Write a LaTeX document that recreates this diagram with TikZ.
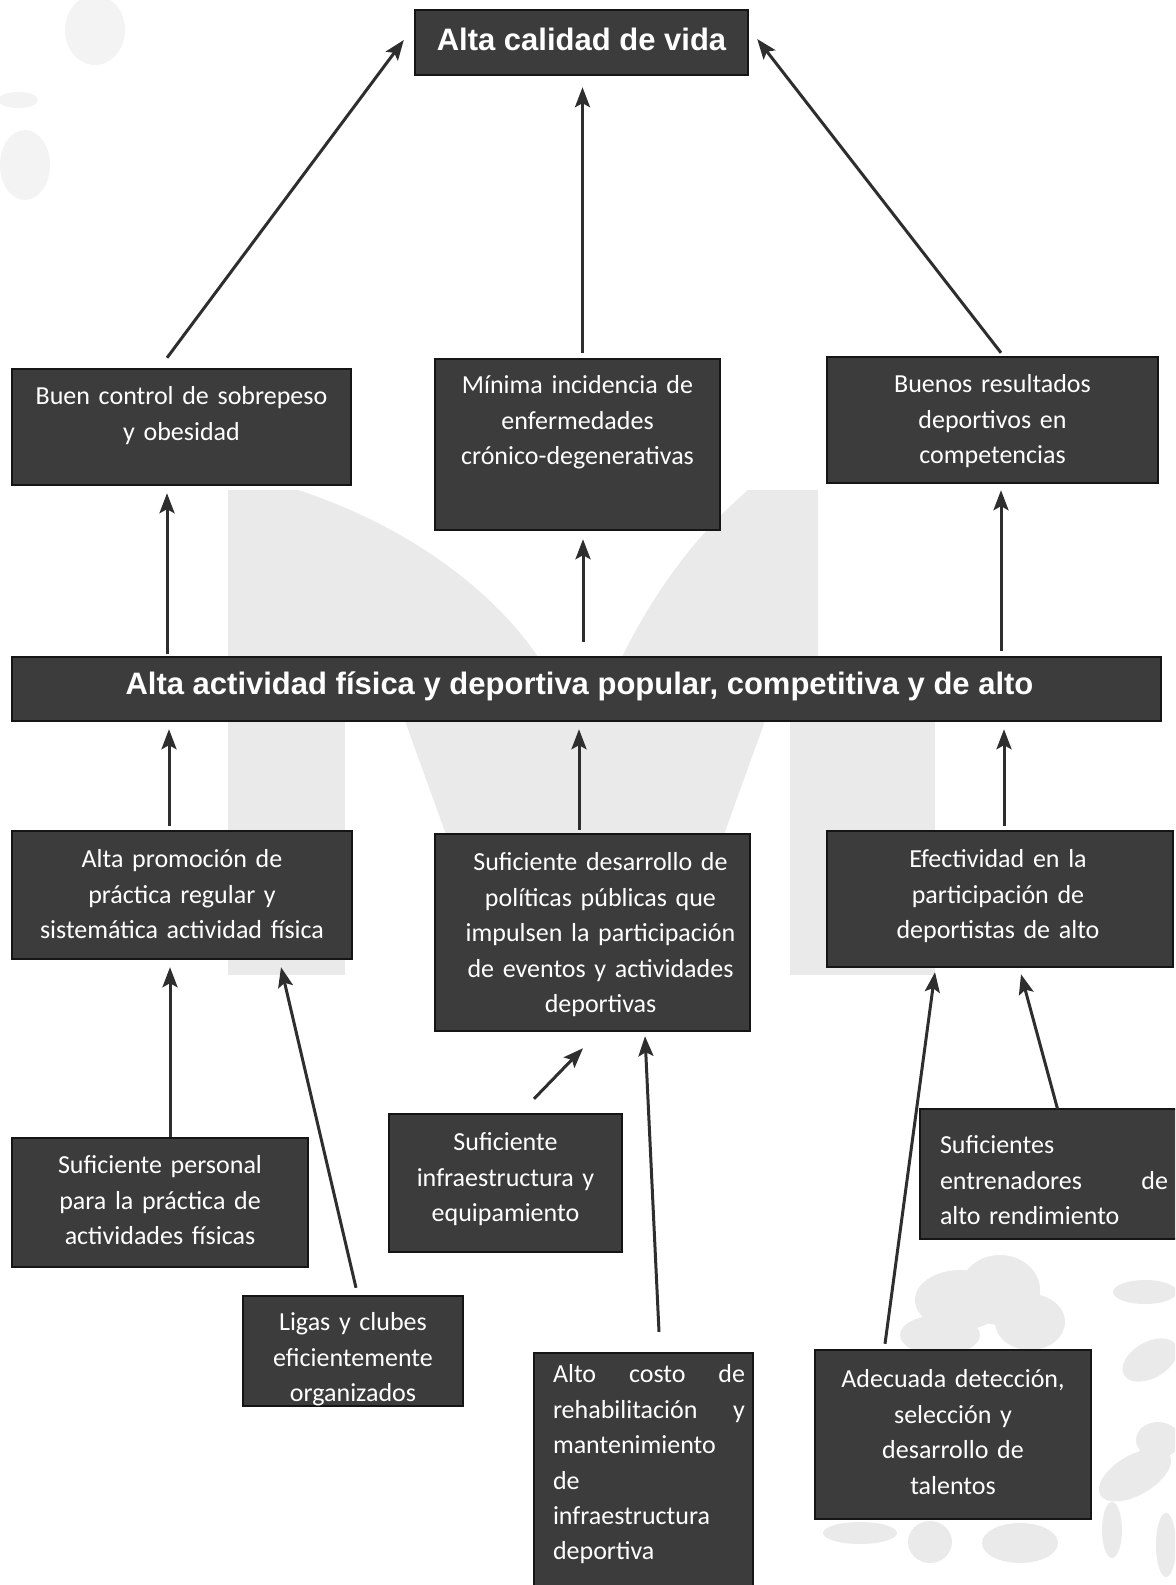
\documentclass[tikz,border=0pt]{standalone}
\usepackage{fontspec}
\setmainfont{Carlito}
\newfontfamily\arialfont{Liberation Sans}
\usetikzlibrary{arrows.meta,calc,fit}
\definecolor{boxfill}{HTML}{3C3C3C}
\definecolor{boxline}{HTML}{151515}
\definecolor{arrowc}{HTML}{2E2E2E}
\definecolor{wm}{HTML}{EAEAEA}
\definecolor{wmlight}{HTML}{F3F3F3}
\begin{document}
\begin{tikzpicture}[x=0.5pt,y=-0.5pt,
  box/.style={draw=boxline, line width=1.2pt, fill=boxfill, inner sep=0pt},
  txt/.style={text=white, font=\fontsize{13}{17.7}\selectfont, align=center, inner sep=0pt, anchor=base},
  jtxt/.style={text=white, font=\fontsize{13}{17.7}\selectfont, align=left, inner sep=0pt, anchor=base},
  ttl/.style={text=white, font=\arialfont\bfseries\fontsize{15.5}{18}\selectfont, inner sep=0pt, anchor=base},
  arr/.style={draw=arrowc, line width=1.5pt, -{Stealth[length=10pt,width=7.5pt,inset=2pt]}},
  wmshape/.style={fill=wm, draw=none},
  wmsoft/.style={fill=wmlight, draw=none}]
\useasboundingbox (0,0) rectangle (1175,1585);
\clip (0,0) rectangle (1175,1585);
% watermark
\path[wmshape] (228,490) -- (298,490) .. controls (420,530) and (500,600) .. (538,657) -- (228,657) -- cycle;
\path[wmshape] (818,490) -- (748,490) .. controls (690,540) and (650,600) .. (622,657) -- (818,657) -- cycle;
\path[wmshape] (228,721) rectangle (345,975);
\path[wmshape] (405,721) -- (765,721) -- (722,840) -- (448,840) -- cycle;
\path[wmshape] (790,721) rectangle (935,975);
% floral decoration
\path[wmshape] (960,1300) ellipse [x radius=45, y radius=30];
\path[wmshape] (1000,1290) ellipse [x radius=40, y radius=35];
\path[wmshape] (1030,1322) ellipse [x radius=35, y radius=28];
\path[wmshape] (940,1335) ellipse [x radius=40, y radius=20];
\path[wmshape] (1145,1292) ellipse [x radius=32, y radius=12];
\path[wmshape, rotate around={30:(1150,1360)}] (1150,1360) ellipse [x radius=30, y radius=18];
\path[wmshape] (1158,1440) ellipse [x radius=22, y radius=18];
\path[wmshape, rotate around={30:(1135,1475)}] (1135,1475) ellipse [x radius=40, y radius=20];
\path[wmshape] (1112,1530) ellipse [x radius=10, y radius=28];
\path[wmshape] (1020,1543) ellipse [x radius=38, y radius=20];
\path[wmshape] (860,1533) ellipse [x radius=37, y radius=11];
\path[wmshape] (930,1542) ellipse [x radius=22, y radius=21];
\path[wmshape] (1166,1545) ellipse [x radius=10, y radius=32];
\path[wmsoft] (95,30) ellipse [x radius=30, y radius=35];
\path[wmsoft] (18,100) ellipse [x radius=20, y radius=8];
\path[wmsoft] (25,165) ellipse [x radius=25, y radius=35];

% boxes
\node[box, fit={(415,10)(748,75)}] (top) {};
\node[ttl] (topt) at ($(top.center)+(0,7.5)$) {Alta calidad de vida};

\node[box, fit={(12,369)(351,485)}] (bc) {};
\node[txt, text width=160pt] (bct) at ($(bc.north)+(0,37)$) {Buen control de sobrepeso\\y obesidad};

\node[box, fit={(435,359)(720,530)}] (mi) {};
\node[txt, text width=136pt] (mit) at ($(mi.north)+(0,36)$) {Mínima incidencia de\\enfermedades\\crónico-degenerativas};

\node[box, fit={(827,357)(1158,483)}] (br) {};
\node[txt, text width=155pt] (brt) at ($(br.north)+(0,37)$) {Buenos resultados\\deportivos en\\competencias};

\node[box, fit={(12,657)(1161,721)}] (bar) {};
\node[ttl] (bart) at ($(bar.center)+(-7,5)$) {Alta actividad física y deportiva popular, competitiva y de alto};

\node[box, fit={(12,831)(352,959)}] (ap) {};
\node[txt, text width=162pt] (apt) at ($(ap.north)+(0,38)$) {Alta promoción de\\práctica regular y\\sistemática actividad física};

\node[box, fit={(435,834)(750,1031)}] (sd) {};
\node[txt, text width=150pt] (sdt) at ($(sd.north)+(8,38)$) {Suficiente desarrollo de\\políticas públicas que\\impulsen la participación\\de eventos y actividades\\deportivas};

\node[box, fit={(827,831)(1173,967)}] (ef) {};
\node[txt, text width=160pt] (eft) at ($(ef.north)+(-2,38)$) {Efectividad en la\\participación de\\deportistas de alto};

\node[box, fit={(12,1138)(308,1267)}] (sp) {};
\node[txt, text width=140pt] (spt) at ($(sp.north)+(0,37)$) {Suficiente personal\\para la práctica de\\actividades físicas};

\node[box, fit={(243,1296)(463,1406)}] (lc) {};
\node[txt, text width=104pt] (lct) at ($(lc.north)+(0,36)$) {Ligas y clubes\\eficientemente\\organizados};

\node[box, fit={(389,1114)(622,1252)}] (si) {};
\node[txt, text width=110pt] (sit) at ($(si.north)+(0,38)$) {Suficiente\\infraestructura y\\equipamiento};

\node[box, fit={(534,1353)(753,1600)}] (ac) {};
\node[jtxt, text width=96pt] (act) at ($(ac.north)+(5.5,31)$) {\makebox[96pt][l]{Alto\hfill costo\hfill de}\\\makebox[96pt][l]{rehabilitación\hfill y}\\mantenimiento\\de\\infraestructura\\deportiva};

\node[box, fit={(920,1109)(1190,1239)}] (se) {};
\node[jtxt, text width=114pt] (set) at ($(se.north)+(-1,46)$) {Suficientes\\\makebox[114pt][l]{entrenadores\hfill de}\\alto rendimiento};

\node[box, fit={(815,1350)(1091,1519)}] (ad) {};
\node[txt, text width=132pt] (adt) at ($(ad.north)+(0,39)$) {Adecuada detección,\\selección y\\desarrollo de\\talentos};

% connectors
\draw[arr] ($(bc.north)+(-14.5,-10)$) -- ($(top.west)+(-10,-2.5)$);
\draw[arr] ($(mi.north)+(5,-5)$) -- ($(top.south)+(1,11)$);
\draw[arr] ($(br.north)+(8.5,-3)$) -- ($(top.east)+(8,-3.5)$);
\draw[arr] ($(bar.north)+(-419.5,-2)$) -- ($(bc.south)+(-14.5,7)$);
\draw[arr] ($(bar.north)+(-3.5,-14)$) -- ($(mi.south)+(5.5,8)$);
\draw[arr] ($(bar.north)+(414.5,-5)$) -- ($(br.south)+(8.5,6)$);
\draw[arr] ($(ap.north)+(-13,-4)$) -- ($(bar.south)+(-417.5,7)$);
\draw[arr] ($(sd.north)+(-13.5,-3)$) -- ($(bar.south)+(-7.5,7)$);
\draw[arr] ($(ef.north)+(4,-4)$) -- ($(bar.south)+(417.5,7)$);
\draw[arr] ($(sp.north)+(10,0)$) -- ($(ap.south)+(-12,7)$);
\draw[arr] ($(lc.north)+(3,-7)$) -- ($(ap.south)+(99,7)$);
\draw[arr] ($(si.north)+(28.5,-14)$) -- ($(sd.south)+(-9.5,16)$);
\draw[arr] ($(ac.north)+(15.5,-20)$) -- ($(sd.south)+(52.5,4)$);
\draw[arr] ($(ad.north)+(-68,-5)$) -- ($(ef.south)+(-65,4)$);
\draw[arr] ($(se.north)+(2.5,1)$) -- ($(ef.south)+(21,6)$);
\end{tikzpicture}
\end{document}
